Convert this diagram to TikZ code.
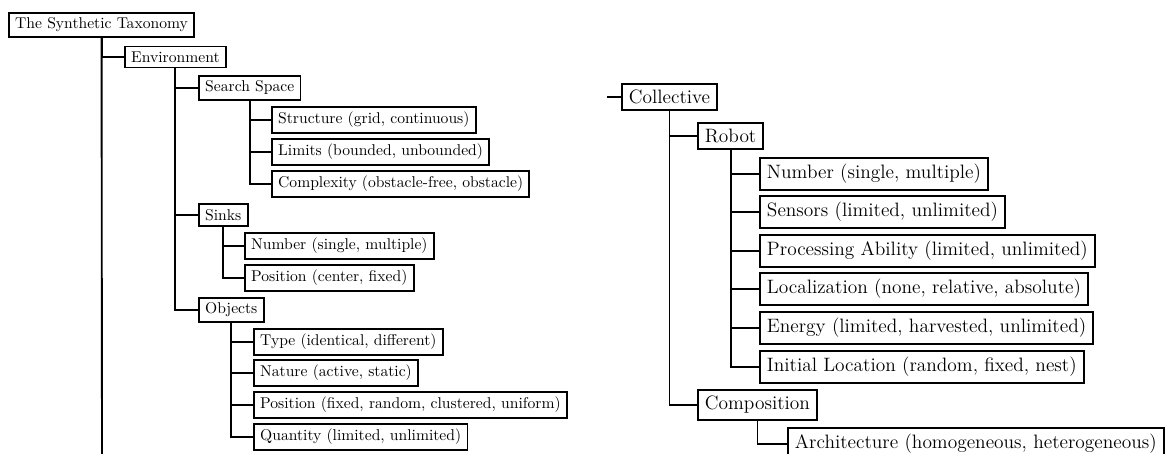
\documentclass[tikz,border=0pt]{standalone}
\begin{document}
\begin{tikzpicture}[x=0.64pt,y=-0.64pt,line width=1.2pt,
	small/.style={draw,anchor=west,inner xsep=4pt,inner ysep=3.3pt,font=\normalsize},
	big/.style={draw,anchor=west,inner xsep=4.5pt,inner ysep=4pt,font=\fontsize{12.4}{15}\selectfont}]
			\clip (0,0) rectangle (1167,454);
			
			% left part: environment
			\node[small] (root) at (8,25) {The Synthetic Taxonomy};
			\node[small] (env) at (124,57) {Environment};
			\node[small] (search) at (198,88) {Search Space};
			\node[small] (struct) at (271,120) {Structure (grid, continuous)};
			\node[small] (limits) at (271,152) {Limits (bounded, unbounded)};
			\node[small] (complex) at (271,184) {Complexity (obstacle-free, obstacle)};
			\node[small] (sinks) at (198,215) {Sinks};
			\node[small] (snum) at (244,246) {Number (single, multiple)};
			\node[small] (spos) at (244,278) {Position (center, fixed)};
			\node[small] (obj) at (198,310) {Objects};
			\node[small] (otype) at (253,342) {Type (identical, different)};
			\node[small] (onat) at (253,373) {Nature (active, static)};
			\node[small] (opos) at (253,405) {Position (fixed, random, clustered, uniform)};
			\node[small] (oqty) at (253,437) {Quantity (limited, unlimited)};
			\coordinate (rootend) at (102,460);
			
			% right part: collective
			\node[big] (coll) at (621,97) {Collective};
			\node[big] (robot) at (697,136) {Robot};
			\node[big] (rnum) at (759,174) {Number (single, multiple)};
			\node[big] (sens) at (759,212) {Sensors (limited, unlimited)};
			\node[big] (proc) at (759,251) {Processing Ability (limited, unlimited)};
			\node[big] (loc) at (759,289) {Localization (none, relative, absolute)};
			\node[big] (energy) at (759,328) {Energy (limited, harvested, unlimited)};
			\node[big] (init) at (759,367) {Initial Location (random, fixed, nest)};
			\node[big] (comp) at (697,405) {Composition};
			\node[big] (arch) at (787,444) {Architecture (homogeneous, heterogeneous)};
			\coordinate (collin) at (607,97);
			
			\draw (root.south) -- (rootend);
			\draw (root.south) |- (env.west);
			\draw (env.south) |- (search.west);
			\draw (env.south) |- (sinks.west);
			\draw (env.south) |- (obj.west);
			\draw (search.south) |- (struct.west);
			\draw (search.south) |- (limits.west);
			\draw (search.south) |- (complex.west);
			\draw (sinks.south) |- (snum.west);
			\draw (sinks.south) |- (spos.west);
			\draw (obj.south) |- (otype.west);
			\draw (obj.south) |- (onat.west);
			\draw (obj.south) |- (opos.west);
			\draw (obj.south) |- (oqty.west);
			
			\draw (collin) -- (coll.west);
			\draw (coll.south) |- (robot.west);
			\draw (coll.south) |- (comp.west);
			\draw (robot.south) |- (rnum.west);
			\draw (robot.south) |- (sens.west);
			\draw (robot.south) |- (proc.west);
			\draw (robot.south) |- (loc.west);
			\draw (robot.south) |- (energy.west);
			\draw (robot.south) |- (init.west);
			\draw (comp.south) |- (arch.west);
\end{tikzpicture}
\end{document}
